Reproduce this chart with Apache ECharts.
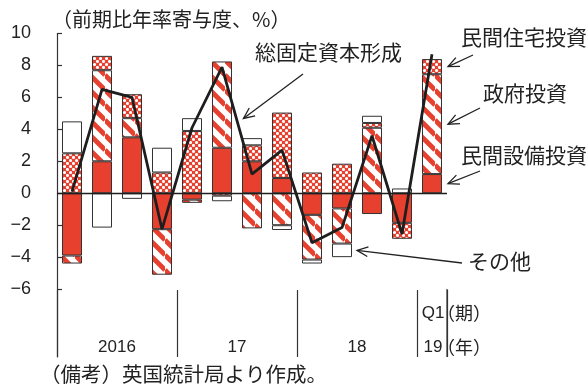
<!DOCTYPE html>
<html>
<head>
<meta charset="utf-8">
<script src="https://cdn.jsdelivr.net/npm/echarts@6/dist/echarts.min.js"></script>
<style>
  html, body { margin: 0; padding: 0; background: #fff; }
  #chart { width: 588px; height: 386px; }
</style>
</head>
<body>
<div id="chart"></div>
<script>
// Quarterly contributions to UK gross fixed capital formation (q/q annualised, % points)
const quarters = ['2016Q1', '2016Q2', '2016Q3', '2016Q4',
                  '2017Q1', '2017Q2', '2017Q3', '2017Q4',
                  '2018Q1', '2018Q2', '2018Q3', '2018Q4',
                  '2019Q1'];
const yearLabels    = ['', '2016', '', '', '', '17', '', '', '', '18', '', '', '19'];
const periodLabels  = ['', '', '', '', '', '', '', '', '', '', '', '', 'Q1'];
const yearStarts    = [0, 4, 8, 12];
const yTickValues   = [-6, -4, -2, 0, 2, 4, 6, 8, 10];

const businessInvestment = [-3.9, 2.0, 3.5, -2.25, -0.4, 2.85, 2.0, 0.95, -1.35, -0.95, -1.3, -1.85, 1.2];
const governmentInvestment = [-0.5, 5.7, 1.2, -2.85, -0.2, 5.4, -2.2, -2.0, -2.8, -2.2, 4.1, 0, 6.25];
const housingInvestment = [2.5, 0.9, 1.5, 1.3, 3.9, -0.15, 1.0, 4.1, 1.3, 1.85, 0.3, -1.0, 0.95];
const otherInvestment = [2.0, -2.15, -0.35, 1.55, 0.8, -0.35, 0.45, -0.3, -0.25, -0.85, 0.45, 0.3, 0];
const totalGFCF = [0.1, 6.5, 6.0, -2.25, 4.1, 7.9, 1.2, 2.7, -3.1, -2.15, 3.6, -2.55, 8.7];

const RED = '#e8402e';
const INK = '#222';
const CJK = '"Noto Sans CJK JP", "Noto Sans CJK SC", sans-serif';
const NUM = '"Liberation Sans", Arial, sans-serif';

// Diagonal red/white hatching
function stripeTile() {
  const s = 15;
  const c = document.createElement('canvas');
  c.width = c.height = s;
  const g = c.getContext('2d');
  g.fillStyle = '#fff';
  g.fillRect(0, 0, s, s);
  g.strokeStyle = RED;
  g.lineWidth = 4.8;
  for (let k = -1; k <= 1; k++) {
    g.beginPath();
    g.moveTo(0, k * s);
    g.lineTo(s, s + k * s);
    g.stroke();
  }
  return c;
}

// Red ground with small white dots
function dotTile() {
  const s = 6;
  const c = document.createElement('canvas');
  c.width = c.height = s;
  const g = c.getContext('2d');
  g.fillStyle = RED;
  g.fillRect(0, 0, s, s);
  g.fillStyle = '#fff';
  [[1.5, 1.5], [4.5, 4.5]].forEach(function (p) {
    g.beginPath();
    g.arc(p[0], p[1], 1.55, 0, Math.PI * 2);
    g.fill();
  });
  return c;
}

function barSeries(name, values, color) {
  return {
    name: name,
    type: 'bar',
    stack: 'gfcf',
    barWidth: 20,
    silent: true,
    data: values.map(function (v) { return v === 0 ? '-' : v; }),
    itemStyle: { color: color, borderColor: '#333', borderWidth: 1 }
  };
}

const chart = echarts.init(document.getElementById('chart'), null, { renderer: 'canvas' });

chart.setOption({
  animation: false,
  grid: { left: 57, right: 141, top: 33.5, bottom: 29, outerBoundsMode: 'none' },
  xAxis: {
    type: 'category',
    data: quarters,
    boundaryGap: true,
    axisLine: { show: false, onZero: false },
    axisTick: {
      show: true,
      inside: true,
      length: 67,
      interval: function (i) { return yearStarts.indexOf(i) >= 0; },
      lineStyle: { color: '#333', width: 1.2 }
    },
    axisLabel: {
      show: true,
      interval: 0,
      inside: true,
      margin: -7,
      verticalAlign: 'bottom',
      lineHeight: 34,
      fontSize: 17,
      fontFamily: NUM,
      color: INK,
      formatter: function (v, i) {
        if (periodLabels[i]) return '{c|' + periodLabels[i] + '}\n{c|' + yearLabels[i] + '}';
        if (yearLabels[i]) return '{y|' + yearLabels[i] + '}';
        return '';
      },
      rich: {
        y: { fontSize: 17, fontFamily: NUM, color: INK, lineHeight: 34, padding: [0, 0, 0, 30] },
        c: { fontSize: 17, fontFamily: NUM, color: INK, lineHeight: 34, padding: [0, 0, 0, 2] }
      }
    },
    splitLine: { show: false }
  },
  yAxis: {
    type: 'value',
    min: -10.25,
    max: 10,
    axisLine: { show: true, lineStyle: { color: '#333', width: 1.2 } },
    axisTick: { show: true, inside: true, length: 5, customValues: yTickValues,
                lineStyle: { color: '#333', width: 1.2 } },
    axisLabel: {
      customValues: yTickValues,
      margin: 26,
      fontSize: 18,
      fontFamily: NUM,
      color: INK,
      formatter: function (v) { return v < 0 ? '\u2212' + (-v) : String(v); }
    },
    splitLine: { show: false }
  },
  series: [
    barSeries('民間設備投資', businessInvestment, RED),
    barSeries('政府投資', governmentInvestment, { image: stripeTile(), repeat: 'repeat' }),
    barSeries('民間住宅投資', housingInvestment, { image: dotTile(), repeat: 'repeat' }),
    barSeries('その他', otherInvestment, '#fff'),
    {
      name: '総固定資本形成',
      type: 'line',
      data: totalGFCF,
      symbol: 'none',
      z: 5,
      silent: true,
      lineStyle: { color: '#1e1e1e', width: 2.8 },
      markLine: {
        silent: true,
        symbol: ['none', 'none'],
        label: { show: false },
        lineStyle: { color: '#1e1e1e', width: 1.3, type: 'solid' },
        data: [{ yAxis: 0 }]
      }
    }
  ]
});

// Annotations: texts and arrows pointing at the marks
function px(i, v) { return chart.convertToPixel({ xAxisIndex: 0, yAxisIndex: 0 }, [i, v]); }

function arrow(from, to) {
  const ang = Math.atan2(to[1] - from[1], to[0] - from[0]);
  const L = 12, w = 0.42;
  const a1 = [to[0] - L * Math.cos(ang - w), to[1] - L * Math.sin(ang - w)];
  const a2 = [to[0] - L * Math.cos(ang + w), to[1] - L * Math.sin(ang + w)];
  return [
    { type: 'line', silent: true, shape: { x1: from[0], y1: from[1], x2: to[0], y2: to[1] },
      style: { stroke: INK, lineWidth: 1.3 } },
    { type: 'polyline', silent: true, shape: { points: [a1, to, a2] },
      style: { stroke: INK, lineWidth: 1.3, fill: null } }
  ];
}

function label(text, x, y, size, family) {
  return { type: 'text', silent: true, x: x, y: y,
           style: { text: text, fill: INK, font: size + 'px ' + (family || CJK),
                    align: 'left', verticalAlign: 'middle' } };
}

const last = quarters.length - 1;
const band = px(1, 0)[0] - px(0, 0)[0];
const lastRight = px(last, 0)[0] + 16;
const eq = businessInvestment[last], gv = governmentInvestment[last], hs = housingInvestment[last];

// Closing separator at the right end of the category axis
const axisEnd = px(last, 0)[0] + band / 2;
const sepTop = px(0, -6)[1];
const sepBottom = px(0, -10.25)[1];

// GFCF line arrow: point on the segment between 2017Q2 and 2017Q3
const p5 = px(5, totalGFCF[5]), p6 = px(6, totalGFCF[6]);
const t = 0.48;
const lineTip = [p5[0] + (p6[0] - p5[0]) * t + 7, p5[1] + (p6[1] - p5[1]) * t];

// "Other" arrow: middle of the 2018Q2 other-investment block
const oi = 9;
const otherMid = businessInvestment[oi] + governmentInvestment[oi] + otherInvestment[oi] / 2;
const otherTip = [px(oi, 0)[0] + 15, px(oi, otherMid)[1]];

const graphics = [
  { type: 'line', silent: true,
    shape: { x1: axisEnd, y1: sepTop, x2: axisEnd, y2: sepBottom },
    style: { stroke: '#333', lineWidth: 1.2 } },
  label('（前期比年率寄与度、%）', 52, 19, 20),
  label('（備考）英国統計局より作成。', 40, 374, 20.5),
  label('総固定資本形成', 255, 52, 21),
  label('民間住宅投資', 461, 37, 21),
  label('政府投資', 483, 93, 21),
  label('民間設備投資', 461, 155, 21),
  label('その他', 468, 261, 21),
  label('（期）', 437, 313, 18),
  label('（年）', 437, 347, 18)
]
  .concat(arrow([303, 74], lineTip))
  .concat(arrow([473, 55], [lastRight, px(last, eq + gv + hs / 2)[1]]))
  .concat(arrow([480, 108], [lastRight, px(last, eq + gv / 2)[1]]))
  .concat(arrow([480, 171], [lastRight, px(last, eq / 2)[1]]))
  .concat(arrow([462, 263], otherTip));

chart.setOption({ graphic: graphics });
</script>
</body>
</html>
